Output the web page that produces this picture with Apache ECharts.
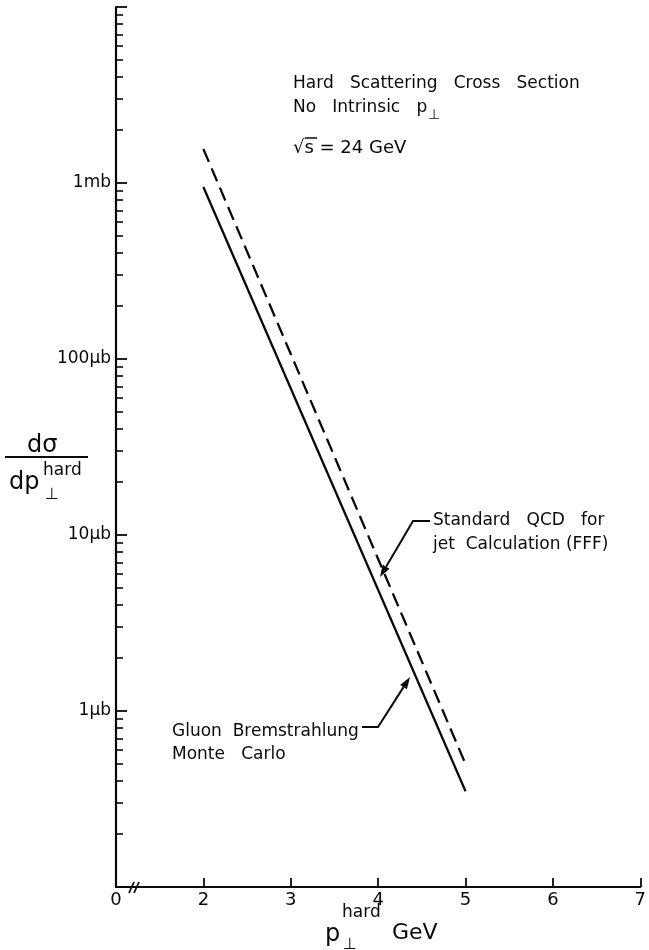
<!DOCTYPE html>
<html>
<head>
<meta charset="utf-8">
<script src="https://cdn.jsdelivr.net/npm/echarts@6/dist/echarts.min.js"></script>
<style>
  html, body { margin: 0; padding: 0; background: #fff; }
  #chart { width: 649px; height: 950px; }
</style>
</head>
<body>
<div id="chart"></div>
<script>
// p_T hard (GeV) and cross section (in microbarn)
const ptValues = [2, 5];
const gluonMC = [950, 0.35];     // solid: Gluon Bremstrahlung Monte Carlo
const qcdFFF = [1560, 0.5];      // dashed: Standard QCD for jet calculation (FFF)

const xTicks = [2, 3, 4, 5, 6, 7];
const yLabels = { 1: '1μb', 10: '10μb', 100: '100μb', 1000: '1mb' };
const decades = [0.1, 1, 10, 100, 1000];
const minorSteps = [2, 3, 4, 5, 6, 7, 8, 9];
const minorTicks = [];
decades.forEach(d => minorSteps.forEach(m => minorTicks.push(d * m)));

const ink = '#0a0a0a';
const font = 'DejaVu Sans';

const chart = echarts.init(document.getElementById('chart'), null, { renderer: 'canvas' });

// leader line with filled arrow head at its last point
function leader(points) {
    const n = points.length;
    const tip = points[n - 1], prev = points[n - 2];
    const dx = tip[0] - prev[0], dy = tip[1] - prev[1];
    const len = Math.sqrt(dx * dx + dy * dy);
    const ux = dx / len, uy = dy / len;
    const back = [tip[0] - ux * 12, tip[1] - uy * 12];
    const head = [
        tip,
        [back[0] - uy * 4, back[1] + ux * 4],
        [back[0] + uy * 4, back[1] - ux * 4]
    ];
    return [
        { type: 'polyline', shape: { points: points.slice(0, n - 1).concat([back]) }, style: { stroke: ink, lineWidth: 2, fill: null } },
        { type: 'polygon', shape: { points: head }, style: { fill: ink } }
    ];
}

function label(text, x, y, size) {
    return {
        type: 'text', x: x, y: y,
        style: { text: text, fill: ink, font: (size || 17) + 'px "' + font + '"', textVerticalAlign: 'middle' }
    };
}

const option = {
    backgroundColor: '#fff',
    animation: false,
    grid: { left: 116, right: 6, top: 7, bottom: 63 },
    xAxis: {
        type: 'value',
        // axis is broken between 0 and 2: the origin is drawn one unit left of 2
        min: 1,
        max: 7,
        interval: 1,
        axisLine: { lineStyle: { color: ink, width: 2.2 } },
        axisTick: { inside: true, length: 9, lineStyle: { color: ink, width: 1.8 }, customValues: xTicks },
        axisLabel: {
            color: ink, fontSize: 18, fontFamily: font, margin: 4,
            formatter: v => (v === 1 ? '0' : String(v))
        },
        splitLine: { show: false }
    },
    yAxis: [{
        type: 'log',
        logBase: 10,
        min: 0.1,
        max: 10000,
        axisLine: { show: true, lineStyle: { color: ink, width: 2.2 } },
        axisTick: { show: true, inside: true, length: 11, lineStyle: { color: ink, width: 1.8 } },
        axisLabel: {
            color: ink, fontSize: 17, fontFamily: font, margin: 5,
            formatter: v => yLabels[Math.round(v)] && Math.abs(v - Math.round(v)) < 1e-6 ? yLabels[Math.round(v)] : ''
        },
        splitLine: { show: false }
    }, {
        type: 'log',
        logBase: 10,
        min: 0.1,
        max: 10000,
        position: 'left',
        axisLine: { show: false },
        axisTick: { show: true, inside: true, length: 7, lineStyle: { color: ink, width: 1.6 }, customValues: minorTicks },
        axisLabel: { show: false },
        splitLine: { show: false }
    }],
    series: [{
        name: 'Gluon Bremstrahlung Monte Carlo',
        type: 'line',
        data: ptValues.map((x, i) => [x, gluonMC[i]]),
        showSymbol: false,
        lineStyle: { color: ink, width: 2.3 }
    }, {
        name: 'Standard QCD for jet Calculation (FFF)',
        type: 'line',
        data: ptValues.map((x, i) => [x, qcdFFF[i]]),
        showSymbol: false,
        lineStyle: { color: ink, width: 2.3, type: [14, 7] }
    }],
    graphic: [
        label('Hard   Scattering   Cross   Section', 293, 84),
        label('No   Intrinsic   p', 293, 108),
        label('⊥', 428, 115, 14),
        label('√s = 24 GeV', 293, 148, 18),
        { type: 'line', shape: { x1: 305, y1: 138, x2: 317, y2: 138 }, style: { stroke: ink, lineWidth: 1.5 } },
        label('Standard   QCD   for', 433, 521),
        label('jet  Calculation (FFF)', 433, 545),
        label('Gluon  Bremstrahlung', 172, 732),
        label('Monte   Carlo', 172, 755),
        ...leader([[430, 521], [413, 521], [380, 577]]),
        ...leader([[362, 727], [378, 727], [410, 677]]),
        // y axis title
        label('dσ', 27, 446, 24),
        { type: 'line', shape: { x1: 5, y1: 457, x2: 88, y2: 457 }, style: { stroke: ink, lineWidth: 1.8 } },
        label('dp', 9, 483, 24),
        label('hard', 43, 471, 17),
        label('⊥', 45, 495, 16),
        // x axis title
        label('p', 325, 935, 24),
        label('hard', 342, 913, 17),
        label('⊥', 343, 945, 16),
        label('GeV', 392, 933, 22),
        // axis break marks
        { type: 'line', shape: { x1: 129, y1: 893, x2: 134, y2: 882 }, style: { stroke: ink, lineWidth: 1.8 } },
        { type: 'line', shape: { x1: 134, y1: 893, x2: 139, y2: 882 }, style: { stroke: ink, lineWidth: 1.8 } }
    ]
};

chart.setOption(option);
</script>
</body>
</html>
